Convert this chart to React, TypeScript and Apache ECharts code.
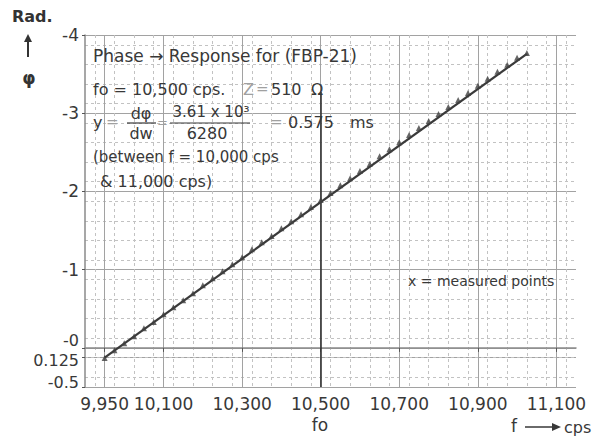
import React, { useEffect, useRef } from "react";
import * as echarts from "echarts";

// ---- data ----
const xTickValues = [9950, 10100, 10300, 10500, 10700, 10900, 11100];
const yTickValues = [-4, -3, -2, -1, 0, 0.125, 0.5];
const yTickLabels = ["-4", "-3", "-2", "-1", "-0", "0.125", "-0.5"];

const fitFreq = [9950, 11025];
const fitPhase = [0.125, -3.76];

const measuredFreq = [
  9950, 9975, 10000, 10025, 10050, 10075, 10100, 10125, 10150, 10175, 10200,
  10225, 10250, 10275, 10300, 10325, 10350, 10375, 10400, 10425, 10450, 10475,
  10500, 10525, 10550, 10575, 10600, 10625, 10650, 10675, 10700, 10725, 10750,
  10775, 10800, 10825, 10850, 10875, 10900, 10925, 10950, 10975, 11000, 11025,
];
const measuredPhase = [
  0.13, 0.03, -0.06, -0.15, -0.25, -0.33, -0.43, -0.52, -0.61, -0.7, -0.8,
  -0.89, -0.98, -1.07, -1.16, -1.26, -1.35, -1.43, -1.53, -1.62, -1.71, -1.8,
  -1.89, -1.98, -2.08, -2.17, -2.26, -2.35, -2.45, -2.54, -2.63, -2.72, -2.81,
  -2.9, -2.99, -3.08, -3.17, -3.26, -3.35, -3.44, -3.53, -3.62, -3.71, -3.77,
];

const foFreq = 10500;
const foLineTop = -3.27;

const FONT = "'DejaVu Sans', sans-serif";
const INK = "#383838";
const LIGHT = "#a0a0a0";

function withCommas(v: number): string {
  const s = String(Math.round(v));
  return s.replace(/\B(?=(\d{3})+(?!\d))/g, ",");
}

function txt(x: number, y: number, text: string, size = 16, fill = INK, align = "left", weight = "normal") {
  return {
    type: "text",
    x,
    y,
    style: {
      text,
      fill,
      font: `${weight} ${size}px ${FONT}`,
      align,
      verticalAlign: "middle",
    },
    z: 100,
  };
}

function hline(x1: number, x2: number, y: number, w = 1.2) {
  return { type: "line", shape: { x1, y1: y, x2, y2: y }, style: { stroke: INK, lineWidth: w }, z: 100 };
}

export default function App() {
  const ref = useRef<HTMLDivElement>(null);

  useEffect(() => {
    if (!ref.current) return;
    const chart = echarts.init(ref.current, null, { renderer: "svg" });

    const yLabel = (v: number) => {
      const i = yTickValues.findIndex((t) => Math.abs(t - v) < 1e-6);
      if (i < 0) return "";
      const key = v === 0 ? "up" : v === 0.5 ? "up2" : v === 0.125 ? "dn" : "n";
      return `{${key}|${yTickLabels[i]}}`;
    };

    const base = { fontSize: 16, fontFamily: FONT, color: INK };

    const option: any = {
      animation: false,
      backgroundColor: "#ffffff",
      grid: { left: 85, right: 20, top: 35, bottom: 49, containLabel: false },
      xAxis: {
        type: "value",
        min: 9900,
        max: 11150,
        interval: 50,
        axisLine: { show: true, lineStyle: { color: "#8a8a8a", width: 1.5 } },
        axisTick: {
          show: true,
          customValues: xTickValues,
          length: 4,
          lineStyle: { color: "#555" },
        },
        axisLabel: {
          customValues: xTickValues,
          formatter: (v: number) => withCommas(v),
          fontSize: 17,
          fontFamily: FONT,
          color: INK,
          margin: 8,
        },
        splitLine: { show: true, lineStyle: { color: "#a2a2a2", width: 1 } },
        minorTick: { show: false, splitNumber: 2 },
        minorSplitLine: { show: true, lineStyle: { color: "#c2c2c2", width: 1, type: [3, 3] } },
      },
      yAxis: {
        type: "value",
        inverse: true,
        min: -4,
        max: 0.5,
        interval: 0.25,
        axisLine: { show: true, lineStyle: { color: "#8a8a8a", width: 1.5 } },
        axisTick: { show: true, customValues: yTickValues, length: 3, lineStyle: { color: "#555" } },
        axisLabel: {
          customValues: yTickValues,
          formatter: (v: number) => yLabel(v),
          margin: 6,
          rich: {
            n: { ...base, fontSize: 17 },
            up: { ...base, padding: [0, 0, 14, 0] },
            up2: { ...base, padding: [0, 0, 10, 0] },
            dn: { ...base, padding: [6, 0, 0, 0] },
          },
        },
        splitLine: { show: true, lineStyle: { color: "#a2a2a2", width: 1 } },
        minorTick: { show: false, splitNumber: 2 },
        minorSplitLine: { show: true, lineStyle: { color: "#c2c2c2", width: 1, type: [3, 3] } },
      },
      series: [
        {
          type: "line",
          data: fitFreq.map((f, i) => [f, fitPhase[i]]),
          symbol: "none",
          lineStyle: { color: "#3a3a3a", width: 2.2 },
          z: 5,
          markLine: {
            silent: true,
            symbol: "none",
            label: { show: false },
            lineStyle: { color: "#333", width: 1.6, type: "solid" },
            data: [[{ coord: [foFreq, foLineTop] }, { coord: [foFreq, 0.5] }]],
          },
        },
        {
          type: "scatter",
          data: measuredFreq.map((f, i) => [f, measuredPhase[i]]),
          symbol: "triangle",
          symbolSize: 6,
          itemStyle: { color: "#404040" },
          z: 6,
        },
      ],
      graphic: [
        txt(12, 16, "Rad.", 16, "#333", "left", "bold"),
        { type: "line", shape: { x1: 28, y1: 40, x2: 28, y2: 57 }, style: { stroke: "#333", lineWidth: 2 }, z: 100 },
        { type: "polygon", shape: { points: [[24, 42], [28, 34], [32, 42]] }, style: { fill: "#333" }, z: 100 },
        txt(29, 78, "φ", 17, "#333", "center", "bold"),

        // title line
        txt(93, 56, "Phase → Response for (FBP-21)", 17),

        // fo line
        txt(93, 89, "fo = 10,500 cps.", 16),
        txt(243, 89, "Z", 16, LIGHT),
        txt(256, 89, "=", 15, LIGHT),
        txt(271, 89, "510", 16),
        txt(311, 89, "Ω", 16),

        // formula line
        txt(93, 122, "y", 16),
        txt(106, 122, "=", 15, LIGHT),
        txt(141, 113, "dφ", 16, INK, "center"),
        hline(127, 156, 123),
        txt(141, 133, "dw", 16, INK, "center"),
        txt(157, 122, "=", 13, LIGHT),
        txt(211, 112, "3.61 x 10³", 15, INK, "center"),
        hline(170, 250, 123),
        txt(207, 133, "6280", 16, INK, "center"),
        txt(270, 122, "=", 15, LIGHT),
        txt(288, 122, "0.575", 16),
        txt(350, 122, "ms", 16),

        txt(93, 157, "(between f = 10,000 cps", 15),
        txt(100, 181, "& 11,000 cps)", 16),

        txt(408, 281, "x = measured points", 14),

        txt(320, 425, "fo", 17, INK, "center"),
        txt(511, 426, "f", 17),
        hline(525, 556, 427, 1.5),
        { type: "polygon", shape: { points: [[552, 423], [561, 427], [552, 431]] }, style: { fill: INK }, z: 100 },
        txt(564, 427, "cps", 16),
      ],
    };

    chart.setOption(option);
    return () => chart.dispose();
  }, []);

  return (
    <div
      ref={ref}
      style={{ position: "fixed", left: 0, top: 0, width: 596, height: 436 }}
    />
  );
}
